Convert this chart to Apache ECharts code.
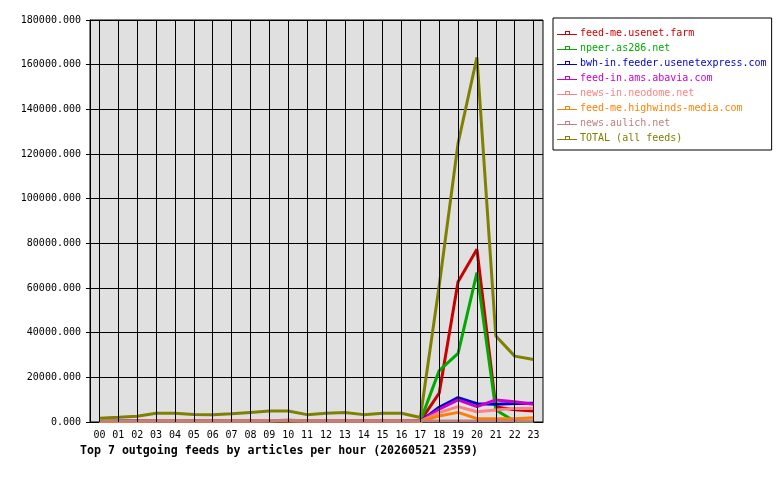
<!DOCTYPE html>
<html>
<head>
<meta charset="utf-8">
<script src="https://cdn.jsdelivr.net/npm/echarts@6/dist/echarts.min.js"></script>
<style>
html,body{margin:0;padding:0;background:#fff;}
#chart{width:780px;height:480px;}
</style>
</head>
<body>
<div id="chart"></div>
<script>
const hours = ['00','01','02','03','04','05','06','07','08','09','10','11','12','13','14','15','16','17','18','19','20','21','22','23'];
const yTicks = [0, 20000, 40000, 60000, 80000, 100000, 120000, 140000, 160000, 180000];
const feedNames = ['feed-me.usenet.farm','npeer.as286.net','bwh-in.feeder.usenetexpress.com','feed-in.ams.abavia.com','news-in.neodome.net','feed-me.highwinds-media.com','news.aulich.net','TOTAL (all feeds)'];
const usenetFarm   = [200,300,400,500,500,400,400,500,600,700,700,500,500,600,500,600,600,400,12900,62800,77300,6700,5500,4900];
const as286        = [200,300,400,500,500,400,400,500,600,700,700,500,500,600,500,600,600,400,23000,30700,66900,5400,300,200];
const usenetexpress= [200,300,400,500,500,500,500,500,600,700,700,500,500,600,500,600,500,300,6600,10900,8200,8000,8300,8400];
const abavia       = [200,300,400,500,500,400,400,500,600,700,700,500,500,600,500,600,500,300,5700,9900,6900,9900,9100,7900];
const neodome      = [200,300,300,400,400,400,400,400,500,600,600,400,400,500,400,500,500,300,4200,6900,4600,5400,6100,6100];
const highwinds    = [200,200,300,400,400,300,300,400,400,500,500,400,400,400,400,400,400,300,2700,4300,1500,1500,1500,1900];
const aulich       = [500,500,500,500,500,500,500,500,500,500,900,500,500,500,500,500,500,500,500,500,500,500,500,500];
const total        = [1650,2100,2600,3900,3900,3400,3200,3700,4300,4900,4900,3300,3900,4300,3300,3900,3900,2000,61000,124800,163300,38500,29500,28000];
const seriesData = [usenetFarm, as286, usenetexpress, abavia, neodome, highwinds, aulich, total];
const colors = ['#cc0000','#00aa00','#0000cc','#cc00cc','#ff8080','#ff8000','#c08080','#808000'];

const mono = '"DejaVu Sans Mono", "Liberation Mono", monospace';
const icon = 'path://M0,4 L20,4 L20,5 L0,5 Z M8,1 L13,1 L13,2 L8,2 Z M8,1 L9,1 L9,4 L8,4 Z M12,1 L13,1 L13,4 L12,4 Z';

const chart = echarts.init(document.getElementById('chart'), null, {renderer:'canvas'});
const series = feedNames.map((n, i) => ({
  name: n, type: 'line', data: seriesData[i],
  showSymbol: false, symbol: 'none', z: 3,
  lineStyle: {color: colors[i], width: 3},
  itemStyle: {color: colors[i]},
  emphasis: {disabled: true}
}));
series.unshift({
  name: '_vgrid', type: 'line', data: [], z: 1, silent: true,
  markLine: {
    silent: true, symbol: ['none','none'], animation: false,
    label: {show: false},
    lineStyle: {color: '#000', width: 1, type: 'solid'},
    emphasis: {disabled: true},
    data: hours.map(h => ({xAxis: h}))
  }
});
chart.setOption({
  animation: false,
  backgroundColor: '#ffffff',
  title: {
    text: 'Top 7 outgoing feeds by articles per hour (20260521 2359)',
    left: 80, top: 445, padding: 0,
    textStyle: {fontFamily: mono, fontSize: 11.6, fontWeight: 'bold', color: '#000'}
  },
  legend: {
    orient: 'vertical',
    left: 553, top: 18,
    padding: [10, 5, 7, 4],
    itemGap: 5,
    itemWidth: 20, itemHeight: 4,
    borderColor: '#000', borderWidth: 1, borderRadius: 0,
    selectedMode: false,
    icon: icon,
    textStyle: {fontFamily: mono, fontSize: 10, lineHeight: 10, padding: [0,0,0,-2]},
    data: feedNames.map((n, i) => ({name: n, itemStyle: {color: colors[i]}, textStyle: {color: colors[i]}}))
  },
  grid: {
    left: 90, right: 237, top: 20, bottom: 58,
    show: true, backgroundColor: '#e0e0e0', borderColor: '#000', borderWidth: 1
  },
  xAxis: {
    type: 'category',
    data: hours,
    boundaryGap: true,
    axisLine: {lineStyle: {color: '#000', width: 1}},
    axisTick: {alignWithLabel: true, length: 4, lineStyle: {color: '#000'}},
    axisLabel: {fontFamily: mono, fontSize: 10, color: '#000', margin: 8, interval: 0},
    splitLine: {show: false}
  },
  yAxis: {
    type: 'value',
    min: yTicks[0], max: yTicks[yTicks.length - 1], interval: yTicks[1] - yTicks[0],
    axisLine: {show: true, lineStyle: {color: '#000', width: 1}},
    axisTick: {show: true, length: 4, lineStyle: {color: '#000'}},
    axisLabel: {fontFamily: mono, fontSize: 10, color: '#000', margin: 9,
      formatter: v => v.toFixed(3)},
    splitLine: {show: true, lineStyle: {color: '#000', width: 1}}
  },
  series: series
});
</script>
</body>
</html>
